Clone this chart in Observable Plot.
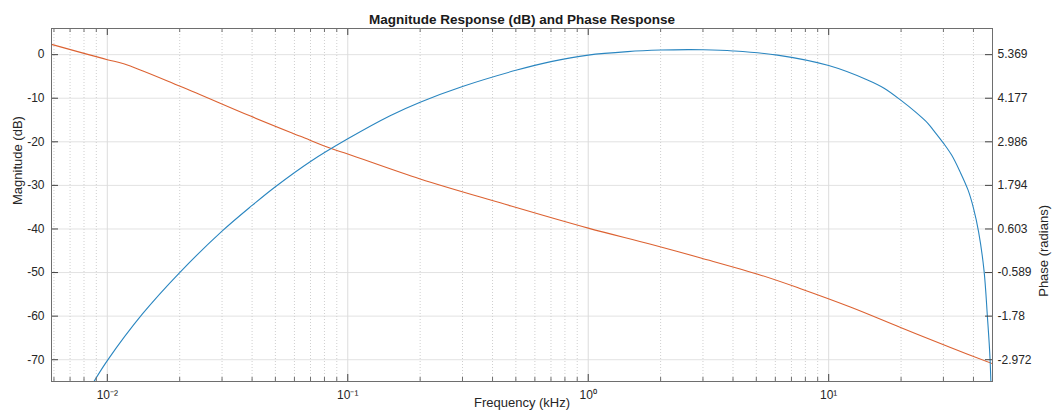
<!DOCTYPE html>
<html>
<head>
<meta charset="utf-8">
<script src="https://cdn.jsdelivr.net/npm/d3@7"></script>
<script src="https://cdn.jsdelivr.net/npm/@observablehq/plot@0.6"></script>
<style>
  html, body { margin: 0; padding: 0; background: #fff; }
  #chart { width: 1052px; height: 413px; }
</style>
</head>
<body>
<div id="chart"></div>
<script>
// ---- data ----
const freqDomain = [0.00586, 48];           // kHz
const magDomain = [-75, 6];                 // dB

// Magnitude response (blue)
const magFreq = [0.0088, 0.01, 0.014, 0.02, 0.03, 0.04, 0.05, 0.07, 0.1, 0.15, 0.2, 0.3, 0.5, 0.7, 1.0, 1.46, 2.0, 2.6, 3.0, 4.0, 6.12, 10, 14.5, 17, 20, 23, 25.9, 27.5, 30, 32.5, 35.2, 38, 40, 42, 44.25, 45.7, 46.9, 48];
const magDb   = [-75, -70.2, -59.5, -50.0, -40.5, -34.6, -30.3, -24.5, -19.3, -14.0, -10.9, -7.3, -3.6, -1.6, -0.1, 0.7, 1.05, 1.15, 1.12, 0.85, -0.1, -2.5, -5.8, -7.7, -10.5, -13.2, -15.8, -17.6, -20.3, -23.1, -26.9, -31.1, -35.2, -40.6, -49.5, -60, -70, -90];

// Phase response (orange), radians
const phaseFreq = [0.00586, 0.01, 0.0117, 0.0202, 0.0394, 0.0636, 0.0848, 0.1, 0.2, 0.431, 1.0, 1.82, 2.94, 5.22, 7.64, 12.3, 19.9, 32.1, 48];
const phaseRad  = [5.65, 5.232, 5.122, 4.499, 3.689, 3.135, 2.807, 2.652, 1.97, 1.317, 0.626, 0.186, -0.19, -0.66, -1.03, -1.530, -2.090, -2.639, -3.08];

// Axis ticks / labels
const magTicks = [0, -10, -20, -30, -40, -50, -60, -70];
const phaseTickLabels = ["5.369", "4.177", "2.986", "1.794", "0.603", "-0.589", "-1.78", "-2.972"];
const majorFreqTicks = [0.01, 0.1, 1, 10];
const minorFreqTicks = [0.006, 0.007, 0.008, 0.009,
  0.02, 0.03, 0.04, 0.05, 0.06, 0.07, 0.08, 0.09,
  0.2, 0.3, 0.4, 0.5, 0.6, 0.7, 0.8, 0.9,
  2, 3, 4, 5, 6, 7, 8, 9, 20, 30, 40];

const titleText = "Magnitude Response (dB) and Phase Response";
const xLabel = "Frequency (kHz)";
const yLabelLeft = "Magnitude (dB)";
const yLabelRight = "Phase (radians)";

// ---- build tables ----
const magData = magFreq.map((f, i) => ({f, v: magDb[i]}));
const phaseTicks = phaseTickLabels.map(Number);
const k = (magTicks[magTicks.length - 1] - magTicks[0]) / (phaseTicks[phaseTicks.length - 1] - phaseTicks[0]);
const phaseToMag = p => magTicks[0] + (p - phaseTicks[0]) * k;
const phaseData = phaseFreq.map((f, i) => ({f, v: phaseToMag(phaseRad[i])}));

const sup = {"-": "⁻", "0": "⁰", "1": "¹", "2": "²", "3": "³"};
const fmtPow = d => "10" + String(Math.round(Math.log10(d))).split("").map(c => sup[c]).join("");

const W = 1052, H = 413, mL = 51, mR = 60, mT = 28, mB = 32;
const fw = W - mL - mR, fh = H - mT - mB;
const axisCol = "#6e6e6e";

const chart = Plot.plot({
  width: W, height: H,
  marginLeft: mL, marginRight: mR, marginTop: mT, marginBottom: mB,
  style: {fontFamily: "'Liberation Sans', Arial, Helvetica, sans-serif", fontSize: "12px", color: "#262626", background: "#fff", overflow: "visible"},
  x: {type: "log", domain: freqDomain, axis: null},
  y: {domain: magDomain, axis: null},
  marks: [
    Plot.gridY(magTicks, {stroke: "#e2e2e2", strokeOpacity: 1}),
    Plot.gridX(minorFreqTicks, {stroke: "#cfcfcf", strokeOpacity: 1, strokeDasharray: "1,2"}),
    Plot.gridX(majorFreqTicks, {stroke: "#dcdcdc", strokeOpacity: 1}),
    Plot.line(phaseData, {x: "f", y: "v", stroke: "#dc6232", strokeWidth: 1.1, curve: "catmull-rom", clip: true}),
    Plot.line(magData, {x: "f", y: "v", stroke: "#2a86c0", strokeWidth: 1.1, curve: "catmull-rom", clip: true}),
    // inward ticks
    Plot.tickX(minorFreqTicks, {x: d => d, insetTop: fh - 4, stroke: axisCol}),
    Plot.tickX(minorFreqTicks, {x: d => d, insetBottom: fh - 4, stroke: axisCol}),
    Plot.tickX(majorFreqTicks, {x: d => d, insetTop: fh - 7, stroke: "#444"}),
    Plot.tickX(majorFreqTicks, {x: d => d, insetBottom: fh - 7, stroke: "#444"}),
    Plot.tickY(magTicks, {y: d => d, insetRight: fw - 7, stroke: "#444"}),
    Plot.tickY(magTicks, {y: d => d, insetLeft: fw - 7, stroke: "#444"}),
    Plot.frame({stroke: axisCol}),
    // tick labels
    Plot.axisX(majorFreqTicks, {anchor: "bottom", tickSize: 0, tickPadding: 9, tickFormat: fmtPow, label: null, fontSize: 12}),
    Plot.axisY(magTicks, {anchor: "left", tickSize: 0, tickPadding: 7, tickFormat: d => String(d), label: null, fontSize: 12}),
    Plot.axisY(magTicks, {anchor: "right", tickSize: 0, tickPadding: 5, tickFormat: d => phaseTickLabels[magTicks.indexOf(d)], label: null, fontSize: 12}),
    // labels
    Plot.text([titleText], {frameAnchor: "top", dy: -14, fontWeight: "bold", fontSize: 13.5, fill: "#1a1a1a"}),
    Plot.text([xLabel], {frameAnchor: "bottom", dy: 25, fontSize: 13, fill: "#262626"}),
    Plot.text([yLabelLeft], {frameAnchor: "left", dx: -34, rotate: -90, fontSize: 13, fill: "#262626"}),
    Plot.text([yLabelRight], {frameAnchor: "right", dx: 51, rotate: -90, fontSize: 13, fill: "#262626"})
  ]
});
document.getElementById("chart").append(chart);
</script>
</body>
</html>
